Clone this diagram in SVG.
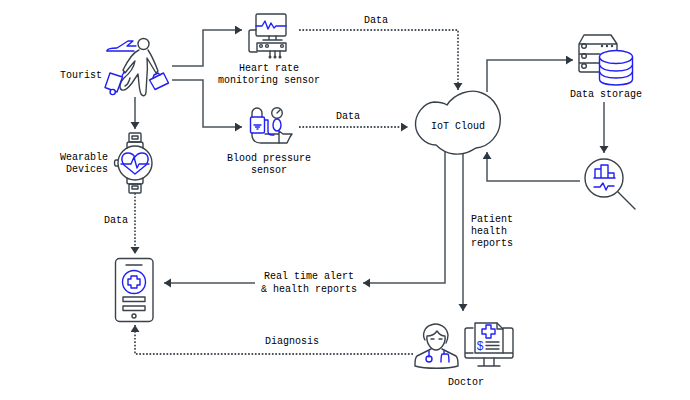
<svg xmlns="http://www.w3.org/2000/svg" width="690" height="400" viewBox="0 0 690 400">
<defs>
<style>
text{font-family:"Liberation Mono","DejaVu Sans Mono",monospace;font-size:10px;fill:#000;text-anchor:middle}
.l{text-anchor:start}
.r{text-anchor:end}
.k,.b{fill:none;stroke-width:1.4;stroke-linecap:round;stroke-linejoin:round}
.k{stroke:#39424b}.b{stroke:#1f1ff5}
.w{fill:#fff}
.c{fill:none;stroke:#4a535b;stroke-width:1.5}
.d{stroke-dasharray:1.7 1.7;stroke-width:1.8}
</style>
<marker id="a" markerUnits="userSpaceOnUse" markerWidth="9" markerHeight="10" refX="7" refY="4.500" orient="auto"><path d="M0 0L7 4.500L0 9Z" fill="#2f3840"/></marker>
</defs>
<rect width="690" height="400" fill="#fff"/>
<g id="connectors">
<path class="c" marker-end="url(#a)" d="M172 66H203V30H242"/>
<path class="c" marker-end="url(#a)" d="M172 80H203V127H242"/>
<path class="c" marker-end="url(#a)" d="M135 97V129"/>
<path class="c d" marker-end="url(#a)" d="M299 30H458V90"/>
<path class="c d" marker-end="url(#a)" d="M299 127H408"/>
<path class="c" marker-end="url(#a)" d="M487 92V60H573"/>
<path class="c" marker-end="url(#a)" d="M604 102V153"/>
<path class="c" marker-end="url(#a)" d="M580 181H487V152"/>
<path class="c" marker-end="url(#a)" d="M445 152V283H363"/>
<path class="c" marker-end="url(#a)" d="M255 283H164"/>
<path class="c" marker-end="url(#a)" d="M463 153V311"/>
<path class="c d" marker-end="url(#a)" d="M135 193V254"/>
<path class="c d" marker-end="url(#a)" d="M413 354H135V325"/>
<text x="376" y="23">Data</text>
<text x="348" y="119">Data</text>
<text x="116" y="223">Data</text>
<text x="471" y="222" class="l">Patient</text>
<text x="471" y="234" class="l">health</text>
<text x="471" y="246" class="l">reports</text>
<text x="309" y="279">Real time alert</text>
<text x="309" y="292">&amp; health reports</text>
<text x="292" y="344">Diagnosis</text>
</g>
<g id="tourist">
<circle class="k" cx="143.500" cy="44" r="5.500"/>
<path class="k" d="M139 50C134 52 129 58 123 70L125 73C129 68 132 64 135 61C134 67 130 73 124 78C119 83 119 89 122 90C125 91 129 87 132 83L138 74C139 82 139 90 141 94C143 97 146 96 146 92L147 75C148 68 147 62 147 58C150 63 153 68 156 73L158 71C155 63 152 56 148 50"/>
<path class="k" d="M130 78C129 82 127 85 125 86"/>
<path class="b" d="M107 51C107 49 110 48 117 48L128 41H133L127 46H136"/>
<path class="b" d="M107 51H134"/>
<path class="b" d="M110 73L122.500 77L117 92L105 87.500Z"/>
<circle class="b w" cx="112.700" cy="92" r="2.600"/>
<path class="b" d="M122 76L124 72"/>
<path class="b" d="M149.500 80L163.500 73L168.500 83L155 89.500Z"/>
<path class="b" d="M153 78L154 75L158 73L160 75"/>
<text x="102" y="78" class="r">Tourist</text>
</g>
<g id="heart-sensor">
<rect class="k" x="256" y="14" width="30" height="22" rx="1.500"/>
<path class="b" d="M256 26H262L265 21L268 29L271 23L274 28L276 26H286"/>
<path class="k" d="M269 36V40M276 36V40M263 40H282"/>
<path class="k" d="M256 30H251Q249 30 249 32V50Q249 52 251 52H257"/>
<rect class="k" x="257" y="43" width="29" height="8"/>
<circle class="k" cx="261" cy="46" r="1.400"/><circle class="k" cx="267" cy="46" r="1.400"/><circle class="k" cx="282" cy="46" r="1.400"/>
<path class="k" d="M270 51V56M275 51V56M280 51V56"/>
<circle cx="270" cy="57" r="1.500" fill="#39424b"/><circle cx="275" cy="57" r="1.500" fill="#39424b"/><circle cx="280" cy="57" r="1.500" fill="#39424b"/>
<text x="269" y="71">Heart rate</text>
<text x="269" y="83">monitoring sensor</text>
</g>
<g id="bp-sensor">
<path class="k" d="M252 117V113A5 5 0 0 1 262 113V117"/>
<circle class="k" cx="277" cy="113" r="5.300"/>
<path class="k" d="M277 113L280 110"/>
<path class="k" d="M252 133V136Q253 143 261 143H279"/>
<path class="k" d="M265 134H279M279 143H287L290 137L292 134H283L279 131V143"/>
<rect class="b" x="250.500" y="117" width="14" height="16" rx="1.500"/>
<path class="b" d="M254 125H261M255.500 127H259.500M257 129H258M264.500 120H268V131Q268 135 272 135H274"/>
<ellipse class="b" cx="277" cy="125" rx="4" ry="6"/>
<text x="269" y="161">Blood pressure</text>
<text x="269" y="173">sensor</text>
</g>
<g id="wearable">
<rect class="k" x="129" y="133" width="12" height="9" rx="1"/>
<rect class="k" x="132" y="136" width="6" height="3"/>
<path class="k" d="M127 148V144Q127 142 129 142H141Q143 142 143 144V148"/>
<rect class="k" x="129" y="184" width="12" height="9" rx="1"/>
<rect class="k" x="132" y="186" width="6" height="3"/>
<path class="k" d="M127 178V182Q127 184 129 184H141Q143 184 143 182V178"/>
<path class="k" d="M118 160H116Q114.500 160 114.500 163Q114.500 166 116 166H118"/>
<circle class="k" cx="135" cy="163" r="17"/>
<path class="b" d="M124 165C120 159 122 153 128 153C131 153 133 154 135 157C137 154 139 153 142 153C148 153 150 159 146 165L135 174Z"/>
<path class="b" d="M121 164H131L134 157L137 168L139 164H149"/>
<text x="108" y="160" class="r">Wearable</text>
<text x="108" y="172" class="r">Devices</text>
</g>
<g id="phone">
<rect class="k" x="115.500" y="258.500" width="37.500" height="63" rx="4"/>
<path class="k" d="M126 265H142"/>
<circle class="b" cx="134" cy="282" r="11.500"/>
<path class="b" d="M131 276H137V279H140V285H137V288H131V285H128V279H131Z"/>
<rect class="k" x="123" y="297" width="22" height="4.500"/>
<rect class="k" x="123" y="306" width="22" height="4.500"/>
<circle class="k" cx="134" cy="316" r="2"/>
</g>
<g id="cloud">
<path class="k w" d="M447 105C454 94 470 88 482 93C495 98 502 112 500 124C499 134 490 147 476 148C471 151 465 155 454 154C444 153 439 148 436 145C425 145 416 135 415.500 125C415 115 423 103 434 102C439 102 444 103 447 105Z"/>
<text x="458" y="129">IoT Cloud</text>
</g>
<g id="storage">
<path class="k" d="M579 44L584 35H611L617 44V50M579 44H617M579 44V70Q579 72 581 72H600M579 54H600M579 63H600"/>
<circle class="k" cx="584" cy="46" r="2.300"/><circle class="k" cx="584" cy="56" r="2.300"/><circle class="k" cx="584" cy="66" r="2.300"/>
<circle cx="602" cy="46" r="1.200" fill="#39424b"/><circle cx="607" cy="46" r="1.200" fill="#39424b"/><circle cx="612" cy="46" r="1.200" fill="#39424b"/>
<path class="b w" d="M599.500 57V79C599.500 83 607 85 616 85C625 85 632.500 83 632.500 79V57Z"/>
<ellipse class="b w" cx="616" cy="57" rx="16.500" ry="6.500"/>
<path class="b" d="M599.500 65C601 69 608 71 616 71C624 71 631 69 632.500 65M599.500 72C601 76 608 78 616 78C624 78 631 76 632.500 72"/>
<text x="606" y="97">Data storage</text>
</g>
<g id="analytics">
<circle class="k" cx="604" cy="178" r="19"/>
<path class="k" d="M618 192L635 209"/>
<path class="b" d="M595 178V169H601V178M601 178V165H608V178M608 178V173H614V178M594 178H615M594 187H600L603 183L606 190L608 186H614"/>
</g>
<g id="doctor">
<path class="k" d="M425 340C422 335 424 327 431 325C439 322 447 327 448 335C448 338 447 341 446 343"/>
<path class="k" d="M427 336C431 336 435 334 437 331C439 334 442 336 445 336C446 343 441 350 436 350C431 350 426 343 427 336Z"/>
<path class="k" d="M431 339H434M439 339H442"/>
<path class="k" d="M431 349L417 356Q415 358 415 364V366C425 369 448 369 458 366V364Q458 358 456 356L442 349"/>
<path class="b" d="M429 351V357M444 351V354"/>
<circle class="b" cx="429" cy="359" r="3"/>
<path class="b" d="M443 354H447M442 354Q441 356 441 362M448 354Q449 356 449 362"/>
</g>
<g id="report">
<path class="k" d="M473 328H467Q465 328 465 330V356Q465 358 467 358H511Q513 358 513 356V330Q513 328 511 328H503M465 353H473M503 353H513"/>
<path class="k" d="M484 358V366M494 358V366M478 366H500"/>
<path class="k w" d="M475 323H497L503 329V353H475Z"/>
<path class="k" d="M497 323V329H503"/>
<path class="b" d="M486 325H491V329H495V334H491V338H486V334H482V329H486Z"/>
<text x="480" y="350" style="font-size:12px;fill:#1f1ff5">$</text>
<path class="k" d="M486 342H499M486 345.500H499M486 349H499"/>
<text x="466" y="385">Doctor</text>
</g>
</svg>
